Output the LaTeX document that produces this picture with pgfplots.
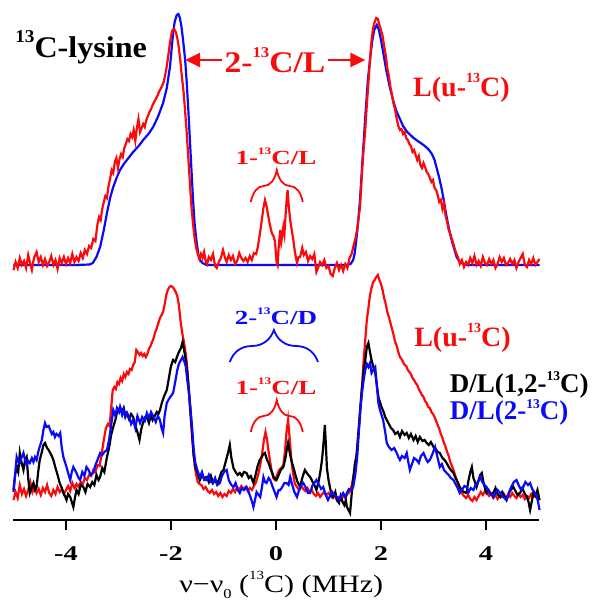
\documentclass[border=0pt]{standalone}
\usepackage{fontspec}
\setmainfont{Liberation Serif}
\usepackage{pgfplots}
\pgfplotsset{compat=1.18}
\usetikzlibrary{decorations.pathreplacing,arrows.meta}
\definecolor{cred}{RGB}{250,10,10}
\definecolor{cblue}{RGB}{10,10,250}
\newcommand{\iso}[2][0.5]{\raisebox{0.5em}{\scalebox{#1}{#2}}}
\newcommand{\fs}[1]{\fontsize{#1bp}{#1bp}\selectfont}
\begin{document}
\begin{tikzpicture}
\begin{axis}[
  scale only axis, width=525bp, height=520bp,
  xmin=-5, xmax=5, ymin=0, ymax=520,
  axis x line*=bottom, axis y line=none,
  x axis line style={line width=2.5bp, -},
  xtick={-4,-2,0,2,4}, xticklabels={{-4},{-2},{0},{2},{4}},
  tick align=outside, major tick length=10bp,
  xtick style={line width=2.5bp, black},
  xticklabel style={font=\fs{21}\bfseries, xscale=1.35, yshift=-13bp},
  clip=false,
]
% ---------- top spectrum ----------
\addplot[cblue, line width=2.2bp] coordinates {
(-5.00,255) (-3.80,255) (-3.55,255.5) (-3.49,257) (-3.42,263) (-3.35,273) (-3.28,290) (-3.22,307) (-3.16,322) (-3.10,333) (-3.03,343) (-2.97,350) (-2.90,356) (-2.84,360) (-2.72,368) (-2.60,375) (-2.53,380) (-2.43,386) (-2.34,393) (-2.25,403) (-2.15,417) (-2.08,432) (-2.02,453) (-1.99,470) (-1.96,487) (-1.93,498) (-1.89,505) (-1.86,506) (-1.83,502) (-1.80,493) (-1.77,480) (-1.73,460) (-1.70,437) (-1.67,410) (-1.64,380) (-1.61,350) (-1.58,320) (-1.55,296) (-1.51,277) (-1.48,266) (-1.45,260) (-1.40,257) (-1.32,255)
(1.35,255) (1.42,256) (1.47,260) (1.50,267) (1.55,290) (1.60,320) (1.65,362) (1.70,403) (1.75,440) (1.79,460) (1.83,478) (1.87,490) (1.92,495) (1.96,490) (2.00,480) (2.05,465) (2.10,450) (2.17,432) (2.25,416) (2.30,408) (2.42,394) (2.50,388) (2.62,382) (2.70,379) (2.81,375) (2.90,371) (2.97,366) (3.02,360) (3.06,352) (3.11,342) (3.16,330) (3.20,318) (3.25,303) (3.30,290) (3.35,279) (3.40,270) (3.44,263) (3.50,258) (3.57,256) (3.65,255) (5.02,255)
};
\addplot[cred, line width=2.2bp] coordinates {
(-5.00,250) (-4.96,258) (-4.92,252) (-4.88,262) (-4.84,255) (-4.80,259) (-4.76,252) (-4.72,265) (-4.68,256) (-4.65,250) (-4.61,262) (-4.56,268) (-4.52,258) (-4.48,263) (-4.44,255) (-4.40,261) (-4.36,254) (-4.32,258) (-4.28,264) (-4.24,255) (-4.20,260) (-4.16,251) (-4.12,262) (-4.08,257) (-4.04,263) (-4.00,256) (-3.96,262) (-3.92,257) (-3.88,266) (-3.84,258) (-3.80,263) (-3.76,259) (-3.72,267) (-3.68,262) (-3.64,270) (-3.60,266) (-3.56,274) (-3.52,272) (-3.48,281) (-3.44,279) (-3.40,296) (-3.37,303) (-3.34,300) (-3.31,311) (-3.28,318) (-3.25,324) (-3.22,322) (-3.19,334) (-3.16,341) (-3.13,350) (-3.10,347) (-3.07,358) (-3.04,362) (-3.01,352) (-2.98,361) (-2.95,366) (-2.92,363) (-2.89,372) (-2.86,376) (-2.83,381) (-2.80,379) (-2.77,386) (-2.74,383) (-2.71,390) (-2.68,379) (-2.65,392) (-2.62,401) (-2.59,388) (-2.56,392) (-2.53,396) (-2.50,393) (-2.47,400) (-2.44,404) (-2.41,408) (-2.38,411) (-2.35,415) (-2.32,418) (-2.29,421) (-2.26,424) (-2.23,428) (-2.20,431) (-2.17,434) (-2.14,438) (-2.11,445) (-2.08,454) (-2.05,465) (-2.02,477) (-1.99,486) (-1.97,490) (-1.94,491) (-1.91,488) (-1.88,482) (-1.85,472) (-1.82,458) (-1.79,442) (-1.76,428) (-1.73,408) (-1.70,387) (-1.67,362) (-1.64,337) (-1.61,313) (-1.58,296) (-1.55,282) (-1.52,272) (-1.49,266) (-1.46,261) (-1.43,266) (-1.40,262) (-1.37,268) (-1.34,259) (-1.31,256) (-1.28,263) (-1.24,260) (-1.20,266) (-1.16,254) (-1.13,252) (-1.09,258) (-1.05,262) (-1.01,270) (-0.97,262) (-0.94,258) (-0.90,265) (-0.86,260) (-0.82,264) (-0.78,256) (-0.74,259) (-0.70,267) (-0.66,262) (-0.62,259) (-0.58,262) (-0.54,258) (-0.50,264) (-0.46,260) (-0.42,267) (-0.38,266) (-0.35,272) (-0.31,285) (-0.27,300) (-0.24,312) (-0.21,320) (-0.18,314) (-0.15,305) (-0.12,296) (-0.08,287) (-0.05,284) (-0.02,279) (0.01,258) (0.03,255) (0.05,272) (0.08,290) (0.10,278) (0.12,285) (0.14,293) (0.16,286) (0.18,303) (0.20,318) (0.22,330) (0.24,316) (0.27,300) (0.30,290) (0.33,280) (0.36,268) (0.40,257) (0.43,263) (0.46,263) (0.50,272) (0.53,265) (0.57,268) (0.61,259) (0.65,264) (0.69,261) (0.73,266) (0.77,248) (0.80,252) (0.84,258) (0.88,255) (0.92,260) (0.96,252) (1.00,254) (1.04,246) (1.08,244) (1.12,252) (1.16,257) (1.20,250) (1.24,255) (1.28,249) (1.32,256) (1.36,252) (1.40,262) (1.44,266) (1.48,275) (1.52,283) (1.56,296) (1.60,313) (1.63,340) (1.66,365) (1.70,390) (1.73,415) (1.76,437) (1.79,460) (1.82,480) (1.85,492) (1.88,498) (1.91,502) (1.94,501) (1.97,495) (2.00,490) (2.03,484) (2.06,474) (2.09,465) (2.12,452) (2.15,444) (2.18,433) (2.21,425) (2.24,416) (2.27,410) (2.30,401) (2.33,394) (2.36,390) (2.39,391) (2.42,386) (2.45,388) (2.48,382) (2.51,380) (2.54,376) (2.57,374) (2.60,368) (2.63,370) (2.66,365) (2.69,360) (2.72,364) (2.75,355) (2.78,352) (2.81,357) (2.84,353) (2.87,348) (2.90,346) (2.93,342) (2.96,338) (2.99,340) (3.02,332) (3.05,330) (3.08,325) (3.11,318) (3.14,320) (3.17,311) (3.20,317) (3.23,304) (3.26,298) (3.29,290) (3.32,286) (3.35,281) (3.38,276) (3.41,270) (3.44,266) (3.47,262) (3.50,256) (3.54,260) (3.58,253) (3.62,258) (3.66,255) (3.70,262) (3.74,257) (3.78,264) (3.82,255) (3.86,259) (3.90,254) (3.94,263) (3.98,257) (4.02,255) (4.06,261) (4.10,256) (4.14,260) (4.18,252) (4.22,256) (4.26,263) (4.30,258) (4.34,262) (4.38,255) (4.42,257) (4.46,261) (4.50,256) (4.54,260) (4.58,252) (4.62,258) (4.66,262) (4.70,266) (4.74,255) (4.78,253) (4.82,260) (4.86,256) (4.90,262) (4.94,255) (4.98,258) (5.02,261)
};
% ---------- bottom spectrum ----------
\addplot[cred, line width=2.2bp] coordinates {
(-5.00,20) (-4.96,28) (-4.92,22) (-4.88,35) (-4.84,26) (-4.80,31) (-4.76,24) (-4.72,30) (-4.68,38) (-4.64,28) (-4.60,34) (-4.56,27) (-4.52,31) (-4.48,25) (-4.44,32) (-4.40,28) (-4.36,35) (-4.32,27) (-4.28,24) (-4.24,30) (-4.20,26) (-4.16,33) (-4.12,28) (-4.08,31) (-4.04,26) (-4.00,30) (-3.96,34) (-3.92,29) (-3.88,37) (-3.84,32) (-3.80,36) (-3.76,33) (-3.72,38) (-3.68,36) (-3.64,42) (-3.60,40) (-3.56,45) (-3.52,44) (-3.48,50) (-3.44,48) (-3.40,55) (-3.36,54) (-3.32,66) (-3.28,80) (-3.24,92) (-3.20,96) (-3.17,94) (-3.14,112) (-3.11,130) (-3.08,133) (-3.05,131) (-3.02,138) (-2.99,136) (-2.96,142) (-2.93,139) (-2.90,146) (-2.87,143) (-2.84,148) (-2.81,146) (-2.78,151) (-2.75,150) (-2.72,155) (-2.69,158) (-2.66,170) (-2.63,168) (-2.60,165) (-2.57,167) (-2.54,164) (-2.51,166) (-2.48,163) (-2.45,166) (-2.42,171) (-2.39,174) (-2.36,178) (-2.33,182) (-2.30,188) (-2.27,192) (-2.24,197) (-2.21,202) (-2.18,205) (-2.15,208) (-2.12,216) (-2.09,225) (-2.06,230) (-2.03,233) (-2.00,234) (-1.97,233) (-1.94,231) (-1.91,228) (-1.88,224) (-1.85,215) (-1.82,200) (-1.79,188) (-1.76,180) (-1.73,170) (-1.70,158) (-1.67,138) (-1.64,113) (-1.61,92) (-1.58,72) (-1.55,55) (-1.52,45) (-1.49,38) (-1.46,36) (-1.42,35) (-1.38,31) (-1.34,33) (-1.30,29) (-1.26,27) (-1.22,30) (-1.18,26) (-1.14,28) (-1.10,24) (-1.06,27) (-1.02,23) (-0.98,26) (-0.94,24) (-0.90,29) (-0.86,27) (-0.82,31) (-0.78,28) (-0.74,33) (-0.70,30) (-0.66,34) (-0.62,31) (-0.58,33) (-0.54,29) (-0.50,32) (-0.46,30) (-0.42,34) (-0.38,38) (-0.34,45) (-0.30,55) (-0.26,68) (-0.23,80) (-0.20,88) (-0.17,80) (-0.14,68) (-0.11,58) (-0.08,48) (-0.05,42) (-0.02,40) (0.02,45) (0.06,50) (0.10,52) (0.14,55) (0.17,68) (0.20,88) (0.23,100) (0.26,82) (0.29,62) (0.32,48) (0.36,36) (0.40,33) (0.44,30) (0.48,34) (0.52,31) (0.56,29) (0.60,32) (0.64,28) (0.68,30) (0.72,26) (0.76,24) (0.80,27) (0.84,23) (0.88,26) (0.92,28) (0.96,25) (1.00,27) (1.04,24) (1.08,22) (1.12,25) (1.16,20) (1.20,23) (1.24,21) (1.28,24) (1.32,22) (1.36,26) (1.40,28) (1.44,34) (1.48,45) (1.52,58) (1.55,75) (1.58,92) (1.61,115) (1.64,135) (1.67,160) (1.70,180) (1.73,200) (1.76,212) (1.79,225) (1.82,232) (1.85,238) (1.88,240) (1.91,243) (1.94,245) (1.97,240) (2.00,236) (2.03,230) (2.06,222) (2.09,216) (2.12,208) (2.15,203) (2.18,197) (2.21,191) (2.24,185) (2.27,178) (2.30,174) (2.33,168) (2.36,163) (2.39,161) (2.42,158) (2.45,155) (2.48,154) (2.51,150) (2.54,148) (2.57,146) (2.60,142) (2.63,140) (2.66,137) (2.69,135) (2.72,131) (2.75,128) (2.78,125) (2.81,123) (2.84,119) (2.87,117) (2.90,113) (2.93,112) (2.96,108) (2.99,106) (3.02,103) (3.05,99) (3.08,95) (3.11,91) (3.14,86) (3.17,82) (3.20,77) (3.23,73) (3.26,68) (3.29,64) (3.32,58) (3.35,54) (3.38,50) (3.41,45) (3.44,40) (3.47,36) (3.50,32) (3.54,27) (3.58,24) (3.62,22) (3.66,25) (3.70,21) (3.74,19) (3.78,23) (3.82,20) (3.86,24) (3.90,28) (3.94,25) (3.98,29) (4.02,27) (4.06,24) (4.10,26) (4.14,22) (4.18,25) (4.22,21) (4.26,24) (4.30,23) (4.34,26) (4.38,22) (4.42,25) (4.46,23) (4.50,27) (4.54,24) (4.58,22) (4.62,26) (4.66,23) (4.70,25) (4.74,21) (4.78,24) (4.82,22) (4.86,26) (4.90,23) (4.94,25) (4.98,21) (5.02,20)
};
\addplot[black, line width=2.2bp] coordinates {
(-5.00,30) (-4.97,45) (-4.94,53) (-4.91,48) (-4.88,67) (-4.85,58) (-4.81,50) (-4.78,60) (-4.75,63) (-4.72,42) (-4.69,27) (-4.65,33) (-4.62,37) (-4.59,30) (-4.56,33) (-4.53,48) (-4.50,60) (-4.46,68) (-4.43,75) (-4.40,77) (-4.36,72) (-4.33,70) (-4.30,67) (-4.27,64) (-4.24,60) (-4.20,52) (-4.16,45) (-4.12,37) (-4.08,32) (-4.05,27) (-4.02,24) (-3.99,20) (-3.96,26) (-3.92,23) (-3.89,18) (-3.86,13) (-3.83,22) (-3.80,30) (-3.76,26) (-3.72,35) (-3.67,33) (-3.63,28) (-3.59,36) (-3.54,33) (-3.50,38) (-3.46,35) (-3.42,45) (-3.38,40) (-3.35,43) (-3.31,52) (-3.27,48) (-3.22,63) (-3.18,72) (-3.14,85) (-3.10,93) (-3.06,100) (-3.03,107) (-3.00,110) (-2.97,113) (-2.93,108) (-2.90,112) (-2.87,104) (-2.84,107) (-2.80,101) (-2.76,106) (-2.72,103) (-2.68,94) (-2.64,88) (-2.60,80) (-2.57,90) (-2.53,98) (-2.49,103) (-2.46,103) (-2.42,97) (-2.38,105) (-2.35,100) (-2.31,104) (-2.27,108) (-2.24,106) (-2.21,110) (-2.17,118) (-2.13,124) (-2.08,130) (-2.04,142) (-2.00,154) (-1.96,160) (-1.92,158) (-1.88,164) (-1.85,168) (-1.81,172) (-1.78,178) (-1.75,170) (-1.72,160) (-1.69,148) (-1.66,130) (-1.63,110) (-1.60,88) (-1.57,65) (-1.53,52) (-1.49,46) (-1.45,40) (-1.41,45) (-1.37,42) (-1.32,43) (-1.28,38) (-1.24,44) (-1.20,37) (-1.16,40) (-1.12,36) (-1.07,43) (-1.04,48) (-1.00,50) (-0.97,56) (-0.94,62) (-0.91,68) (-0.88,75) (-0.85,62) (-0.81,52) (-0.77,48) (-0.73,45) (-0.69,47) (-0.65,44) (-0.61,48) (-0.56,47) (-0.52,42) (-0.48,44) (-0.43,37) (-0.39,45) (-0.35,54) (-0.31,60) (-0.27,63) (-0.24,66) (-0.21,67) (-0.17,60) (-0.14,57) (-0.11,52) (-0.07,47) (-0.04,42) (0.01,40) (0.05,45) (0.09,50) (0.14,53) (0.18,62) (0.21,72) (0.23,77) (0.26,68) (0.30,58) (0.33,53) (0.37,45) (0.41,38) (0.46,33) (0.50,42) (0.55,50) (0.60,46) (0.65,43) (0.70,38) (0.74,34) (0.77,30) (0.81,38) (0.85,50) (0.88,62) (0.91,80) (0.93,95) (0.95,75) (0.97,52) (1.00,40) (1.03,32) (1.06,25) (1.09,23) (1.13,28) (1.16,20) (1.20,17) (1.23,24) (1.26,19) (1.30,15) (1.33,20) (1.35,13) (1.38,10) (1.41,7) (1.44,25) (1.47,40) (1.50,55) (1.54,67) (1.58,95) (1.63,127) (1.67,150) (1.70,160) (1.73,173) (1.76,177) (1.79,168) (1.82,160) (1.86,152) (1.89,147) (1.92,135) (1.95,123) (1.98,118) (2.01,113) (2.05,108) (2.08,103) (2.11,100) (2.15,96) (2.19,92) (2.23,90) (2.27,86) (2.32,88) (2.36,83) (2.40,89) (2.45,85) (2.49,87) (2.53,82) (2.57,86) (2.62,80) (2.66,84) (2.70,78) (2.74,83) (2.79,79) (2.83,80) (2.87,77) (2.91,75) (2.95,78) (3.00,73) (3.04,71) (3.08,68) (3.12,67) (3.17,62) (3.21,60) (3.25,57) (3.29,53) (3.33,50) (3.38,47) (3.42,42) (3.46,38) (3.50,33) (3.54,30) (3.58,28) (3.63,27) (3.66,38) (3.70,48) (3.73,53) (3.76,42) (3.79,38) (3.82,33) (3.86,40) (3.89,45) (3.92,47) (3.95,38) (3.98,32) (4.01,27) (4.05,30) (4.09,26) (4.14,27) (4.18,32) (4.22,26) (4.27,23) (4.31,28) (4.35,24) (4.39,20) (4.43,26) (4.47,30) (4.52,33) (4.56,29) (4.60,25) (4.65,27) (4.69,32) (4.74,26) (4.78,23) (4.81,18) (4.84,10) (4.87,18) (4.90,27) (4.94,24) (4.98,30) (5.02,20)
};
\addplot[cblue, line width=2.2bp] coordinates {
(-5.00,28) (-4.97,45) (-4.94,63) (-4.91,58) (-4.88,57) (-4.85,62) (-4.81,67) (-4.78,60) (-4.75,55) (-4.72,59) (-4.69,57) (-4.65,62) (-4.62,58) (-4.59,63) (-4.56,60) (-4.52,70) (-4.49,75) (-4.46,80) (-4.43,90) (-4.40,97) (-4.37,93) (-4.33,94) (-4.30,90) (-4.27,86) (-4.24,88) (-4.21,83) (-4.18,86) (-4.14,84) (-4.11,87) (-4.08,72) (-4.05,63) (-4.02,58) (-3.99,53) (-3.96,47) (-3.92,40) (-3.89,48) (-3.86,53) (-3.83,50) (-3.80,47) (-3.76,42) (-3.73,40) (-3.69,48) (-3.65,44) (-3.61,53) (-3.57,50) (-3.53,45) (-3.48,47) (-3.44,55) (-3.40,60) (-3.35,67) (-3.31,65) (-3.27,68) (-3.22,70) (-3.18,80) (-3.14,95) (-3.10,110) (-3.06,104) (-3.03,112) (-2.99,108) (-2.97,113) (-2.93,105) (-2.90,110) (-2.87,103) (-2.84,107) (-2.80,104) (-2.76,96) (-2.72,100) (-2.68,92) (-2.64,104) (-2.59,97) (-2.55,103) (-2.50,99) (-2.46,107) (-2.42,102) (-2.38,108) (-2.33,103) (-2.29,98) (-2.25,104) (-2.21,100) (-2.18,92) (-2.15,87) (-2.12,105) (-2.08,117) (-2.04,121) (-2.00,124) (-1.96,127) (-1.92,138) (-1.88,150) (-1.85,156) (-1.81,160) (-1.78,163) (-1.75,159) (-1.72,154) (-1.69,140) (-1.66,128) (-1.63,112) (-1.60,94) (-1.57,72) (-1.54,58) (-1.50,50) (-1.45,43) (-1.41,48) (-1.37,40) (-1.32,40) (-1.28,45) (-1.24,38) (-1.20,37) (-1.16,42) (-1.12,35) (-1.07,37) (-1.03,44) (-0.99,48) (-0.94,50) (-0.90,40) (-0.85,35) (-0.81,33) (-0.77,37) (-0.73,30) (-0.69,27) (-0.65,32) (-0.61,30) (-0.56,33) (-0.52,28) (-0.48,22) (-0.45,17) (-0.43,13) (-0.40,20) (-0.37,28) (-0.33,25) (-0.30,23) (-0.27,32) (-0.24,43) (-0.21,38) (-0.18,37) (-0.14,42) (-0.11,40) (-0.07,34) (-0.04,30) (0.01,23) (0.05,30) (0.08,30) (0.12,33) (0.16,37) (0.20,37) (0.24,35) (0.27,43) (0.31,35) (0.35,28) (0.40,23) (0.44,30) (0.48,35) (0.52,37) (0.56,33) (0.61,27) (0.65,27) (0.69,34) (0.73,37) (0.77,40) (0.81,36) (0.86,31) (0.90,33) (0.94,26) (0.99,20) (1.03,24) (1.07,28) (1.11,25) (1.16,23) (1.20,20) (1.24,24) (1.28,27) (1.32,23) (1.35,27) (1.39,31) (1.43,30) (1.47,33) (1.51,45) (1.55,65) (1.58,90) (1.61,112) (1.64,128) (1.67,140) (1.70,150) (1.73,156) (1.76,153) (1.79,157) (1.82,147) (1.85,150) (1.89,153) (1.92,135) (1.95,117) (1.98,110) (2.01,105) (2.04,100) (2.08,88) (2.11,77) (2.15,73) (2.20,70) (2.25,72) (2.30,67) (2.33,63) (2.36,60) (2.40,64) (2.45,62) (2.49,67) (2.52,58) (2.55,50) (2.59,56) (2.63,62) (2.68,60) (2.72,57) (2.76,64) (2.81,67) (2.85,62) (2.89,58) (2.93,60) (2.98,66) (3.03,73) (3.07,64) (3.12,53) (3.16,56) (3.20,50) (3.25,47) (3.29,45) (3.33,42) (3.38,40) (3.42,36) (3.46,32) (3.50,27) (3.54,30) (3.59,34) (3.63,33) (3.67,28) (3.71,32) (3.76,30) (3.80,35) (3.85,38) (3.89,43) (3.93,38) (3.97,35) (4.01,33) (4.05,28) (4.10,26) (4.14,23) (4.18,27) (4.22,30) (4.27,27) (4.31,24) (4.35,22) (4.39,20) (4.44,28) (4.48,33) (4.53,38) (4.58,40) (4.62,35) (4.67,30) (4.71,33) (4.75,38) (4.80,35) (4.84,37) (4.88,31) (4.93,27) (4.97,24) (5.02,10)
};
% ---------- annotations ----------
\node[anchor=base west, inner sep=0pt, font=\fs{30}\bfseries, xscale=1.07] at (axis cs:-4.97,462) {\iso[0.6]{13}C-lysine};
\node[anchor=base, inner sep=0pt, cred, font=\fs{30}\bfseries, xscale=1.12] at (axis cs:-0.02,447) {2-\iso{13}C/L};
\draw[cred, line width=2.5bp, -{Triangle[length=15bp,width=14bp]}] (axis cs:-1.03,460) -- (axis cs:-1.73,460);
\draw[cred, line width=2.5bp, -{Triangle[length=15bp,width=14bp]}] (axis cs:0.99,460) -- (axis cs:1.70,460);
\node[anchor=base west, inner sep=0pt, cred, font=\fs{28}\bfseries] at (axis cs:2.61,423) {L(u-\iso{13}C)};
\node[anchor=base, inner sep=0pt, cred, font=\fs{20}\bfseries, xscale=1.35] at (axis cs:0,355) {1-\iso{13}C/L};
\draw[cred, line width=1.8bp, decorate, decoration={brace, amplitude=32bp}] (axis cs:-0.48,318) -- (axis cs:0.51,318);
\node[anchor=base west, inner sep=0pt, cred, font=\fs{28}\bfseries] at (axis cs:2.63,173) {L(u-\iso{13}C)};
\node[anchor=base, inner sep=0pt, cblue, font=\fs{20}\bfseries, xscale=1.35] at (axis cs:0,195) {2-\iso{13}C/D};
\draw[cblue, line width=1.8bp, decorate, decoration={brace, amplitude=32bp}] (axis cs:-0.88,158) -- (axis cs:0.80,158);
\node[anchor=base, inner sep=0pt, cred, font=\fs{20}\bfseries, xscale=1.35] at (axis cs:0,125) {1-\iso{13}C/L};
\draw[cred, line width=1.8bp, decorate, decoration={brace, amplitude=32bp}] (axis cs:-0.48,88) -- (axis cs:0.51,88);
\node[anchor=base west, inner sep=0pt, black, font=\fs{27}\bfseries] at (axis cs:3.31,127) {D/L(1,2-\raisebox{0.45em}{\scalebox{0.5}{13}}C)};
\node[anchor=base west, inner sep=0pt, cblue, font=\fs{27}\bfseries] at (axis cs:3.31,100) {D/L(2-\raisebox{0.42em}{\scalebox{0.5}{13}}C)};
\node[anchor=base, inner sep=0pt, font=\fs{25}, xscale=1.2] at (axis cs:0.1,-72) {ν−ν\raisebox{-0.25em}{\scalebox{0.55}{0}} (\iso{13}C) (MHz)};
\coordinate (bbsw) at (axis cs:-5.2571,-94);
\coordinate (bbne) at (axis cs:6.1905,520);
\end{axis}
\pgfresetboundingbox
\useasboundingbox (bbsw) rectangle (bbne);
\end{tikzpicture}
\end{document}
